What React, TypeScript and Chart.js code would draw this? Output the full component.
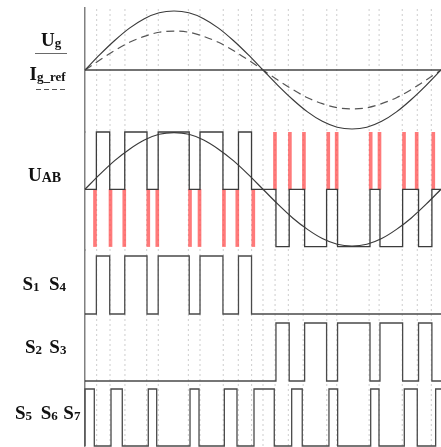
import React, { useEffect, useRef } from "react";
import { Chart, registerables } from "chart.js";

Chart.register(...registerables);

// phase angle samples (degrees) for the sinusoidal waveforms
const sampleDeg = [0, 15, 30, 45, 60, 75, 90, 105, 120, 135, 150, 165, 180, 195, 210, 225, 240, 255, 270, 285, 300, 315, 330, 345, 360];
// grid voltage Ug (p.u.)
const ugValues = [0, 0.26, 0.5, 0.71, 0.87, 0.97, 1, 0.97, 0.87, 0.71, 0.5, 0.26, 0, -0.26, -0.5, -0.71, -0.87, -0.97, -1, -0.97, -0.87, -0.71, -0.5, -0.26, 0];
// reference current Ig_ref (p.u.)
const igRefValues = [0, 0.17, 0.33, 0.47, 0.57, 0.64, 0.66, 0.64, 0.57, 0.47, 0.33, 0.17, 0, -0.17, -0.33, -0.47, -0.57, -0.64, -0.66, -0.64, -0.57, -0.47, -0.33, -0.17, 0];
// modulating sine drawn over UAB (p.u.)
const uabSineValues = [0, 0.26, 0.5, 0.7, 0.86, 0.96, 0.99, 0.96, 0.86, 0.7, 0.5, 0.26, 0, -0.26, -0.5, -0.7, -0.86, -0.96, -0.99, -0.96, -0.86, -0.7, -0.5, -0.26, 0];

// switching intervals (start deg, end deg)
const s14Pulses = [[11.5, 25], [40.2, 62.7], [74, 105.4], [116.3, 139.5], [155.2, 168.4]];
const s23Pulses = [[193.1, 206.5], [222.1, 244.3], [255.4, 288.2], [298.3, 321.2], [337.3, 350.8]];
const s567Pulses = [[0, 9.4], [26.3, 37.7], [64, 72.5], [106.2, 115.3], [140.9, 153.7], [170.9, 191.4], [209, 219.7], [246.7, 255.5], [288.9, 297.3], [322.9, 336], [354.6, 362]];

// red transition spikes on UAB (deg)
const redSpikesPositiveHalf = [10.1, 25.8, 39.7, 64, 73.1, 106.2, 115.8, 140.5, 154, 170.2];
const redSpikesNegativeHalf = [192.1, 207.2, 221.4, 246, 254.5, 288.9, 297.8, 322.6, 335.4, 352.2];

// dotted vertical guide lines (deg)
const guideDeg = [11.8, 25.3, 40.4, 62.4, 74.1, 104.5, 116.3, 139.8, 155, 168.5, 180, 192.2, 205.6, 220.6, 244.5, 254.6, 287.3, 297.4, 320.8, 336, 350.2];

const sineSeries = (vals: number[]) => sampleDeg.map((x, i) => ({ x, y: vals[i] }));

function stepSeries(groups: { pulses: number[][]; level: number }[]) {
  const pts: { x: number; y: number }[] = [{ x: 0, y: 0 }];
  for (const g of groups) {
    for (const [a, b] of g.pulses) {
      pts.push({ x: a, y: 0 }, { x: a, y: g.level }, { x: b, y: g.level }, { x: b, y: 0 });
    }
  }
  const last = pts[pts.length - 1];
  if (last.x < 360) pts.push({ x: 360, y: 0 });
  return pts;
}

function guideSeries() {
  const pts: { x: number; y: number | null }[] = [];
  for (const g of guideDeg) {
    pts.push({ x: g, y: 0 }, { x: g, y: 1 }, { x: g, y: null });
  }
  return pts;
}

const hiddenY = (weight: number, stackWeight: number, min: number, max: number) => ({
  type: "linear" as const,
  position: "left" as const,
  stack: "panels",
  stackWeight,
  weight,
  min,
  max,
  ticks: { display: false },
  grid: { display: false, drawTicks: false },
  border: { display: true, color: "#808080", width: 1.5 },
  afterFit: (axis: any) => {
    axis.width = 0;
  },
});

const FONT = "'Liberation Serif', 'Times New Roman', serif";

function Label({ left, top, main, sub, subSize = 13 }: { left: number; top: number; main: string; sub: string; subSize?: number }) {
  return (
    <div
      style={{
        position: "absolute",
        left,
        top,
        fontFamily: FONT,
        fontWeight: "bold",
        fontSize: 19,
        lineHeight: "19px",
        color: "#111",
        whiteSpace: "nowrap",
      }}
    >
      {main}
      <span style={{ fontSize: subSize, position: "relative", top: 1 }}>{sub}</span>
    </div>
  );
}

export default function App() {
  const ref = useRef<HTMLCanvasElement>(null);

  useEffect(() => {
    document.body.style.margin = "0";
    const canvas = ref.current;
    if (!canvas) return;
    const lineBase = {
      type: "line" as const,
      pointRadius: 0,
      fill: false,
      clip: false as const,
      order: 1,
    };
    const chart = new Chart(canvas, {
      type: "line",
      data: {
        datasets: [
          {
            ...lineBase,
            label: "guides",
            yAxisID: "yGuide",
            data: guideSeries(),
            borderColor: "rgba(0,0,0,0.2)",
            borderWidth: 1,
            borderDash: [2, 3],
            spanGaps: false,
            order: 9,
          },
          {
            ...lineBase,
            label: "zero",
            yAxisID: "yTop",
            data: [{ x: 0, y: 0 }, { x: 360, y: 0 }],
            borderColor: "#444",
            borderWidth: 1.5,
          },
          {
            ...lineBase,
            label: "Ug",
            yAxisID: "yTop",
            data: sineSeries(ugValues),
            borderColor: "#3a3a3a",
            borderWidth: 1.2,
            cubicInterpolationMode: "monotone",
          },
          {
            ...lineBase,
            label: "Ig_ref",
            yAxisID: "yTop",
            data: sineSeries(igRefValues),
            borderColor: "#555",
            borderWidth: 1.2,
            borderDash: [8, 5],
            cubicInterpolationMode: "monotone",
          },
          {
            ...lineBase,
            label: "UAB sine",
            yAxisID: "yUab",
            data: sineSeries(uabSineValues),
            borderColor: "#3a3a3a",
            borderWidth: 1.2,
            cubicInterpolationMode: "monotone",
          },
          {
            ...lineBase,
            label: "UAB",
            yAxisID: "yUab",
            data: stepSeries([
              { pulses: s14Pulses, level: 1 },
              { pulses: s23Pulses, level: -1 },
            ]),
            borderColor: "#3c3c3c",
            borderWidth: 1.3,
            borderJoinStyle: "miter",
          },
          {
            type: "bar" as const,
            label: "spikes",
            yAxisID: "yUab",
            data: [
              ...redSpikesPositiveHalf.map((x) => ({ x, y: [-1, 0] })),
              ...redSpikesNegativeHalf.map((x) => ({ x, y: [0, 1] })),
            ] as any,
            backgroundColor: "rgba(255, 70, 70, 0.72)",
            borderWidth: 0,
            barThickness: 3,
            order: 5,
          },
          {
            ...lineBase,
            label: "S1S4",
            yAxisID: "yS14",
            data: stepSeries([{ pulses: s14Pulses, level: 1 }]),
            borderColor: "#4a4a4a",
            borderWidth: 1.3,
            borderJoinStyle: "miter",
          },
          {
            ...lineBase,
            label: "S2S3",
            yAxisID: "yS23",
            data: stepSeries([{ pulses: s23Pulses, level: 1 }]),
            borderColor: "#4a4a4a",
            borderWidth: 1.3,
            borderJoinStyle: "miter",
          },
          {
            ...lineBase,
            label: "S5S6S7",
            yAxisID: "yS567",
            data: stepSeries([{ pulses: s567Pulses, level: 1 }]),
            borderColor: "#4a4a4a",
            borderWidth: 1.3,
            borderJoinStyle: "miter",
          },
        ] as any,
      },
      options: {
        responsive: false,
        animation: false,
        events: [],
        layout: { padding: { left: 85, top: 8, right: 0, bottom: 1 } },
        plugins: { legend: { display: false }, tooltip: { enabled: false } },
        scales: {
          x: {
            type: "linear",
            min: 0,
            max: 360,
            offset: false,
            ticks: { display: false },
            grid: { display: false, drawTicks: false },
            border: { display: false },
            afterFit: (axis: any) => {
              axis.height = 0;
            },
          },
          yGuide: {
            type: "linear",
            position: "left",
            display: false,
            min: 0,
            max: 1,
          },
          yTop: hiddenY(5, 124, -1.051, 1.051),
          yUab: hiddenY(4, 118, -1.06, 1.0),
          yS14: hiddenY(3, 64, 0, 1.103),
          yS23: hiddenY(2, 67, 0, 1.155),
          yS567: hiddenY(1, 65, 0, 1.14),
        } as any,
      },
    });
    return () => chart.destroy();
  }, []);

  const pair = (top: number, items: { left: number; sub: string }[]) =>
    items.map((it, i) => <Label key={`${top}-${i}`} left={it.left} top={top} main="S" sub={it.sub} />);

  return (
    <div style={{ position: "relative", width: 441, height: 447, overflow: "hidden", background: "#fff" }}>
      <canvas ref={ref} width={441} height={447} style={{ position: "absolute", left: 0, top: 0 }} />
      <Label left={41} top={30} main="U" sub="g" />
      <div style={{ position: "absolute", left: 35, top: 53, width: 32, height: 1, background: "#6a6a6a" }} />
      <Label left={29.5} top={64} main="I" sub="g_ref" />
      <div
        style={{
          position: "absolute",
          left: 36,
          top: 89,
          width: 29,
          height: 1.2,
          background: "repeating-linear-gradient(to right, #555 0 5px, transparent 5px 8px)",
        }}
      />
      <Label left={28} top={165} main="U" sub="AB" subSize={14} />
      {pair(274, [
        { left: 22.5, sub: "1" },
        { left: 49, sub: "4" },
      ])}
      {pair(337, [
        { left: 25, sub: "2" },
        { left: 49.3, sub: "3" },
      ])}
      {pair(403, [
        { left: 15, sub: "5" },
        { left: 40.7, sub: "6" },
        { left: 63.3, sub: "7" },
      ])}
    </div>
  );
}
